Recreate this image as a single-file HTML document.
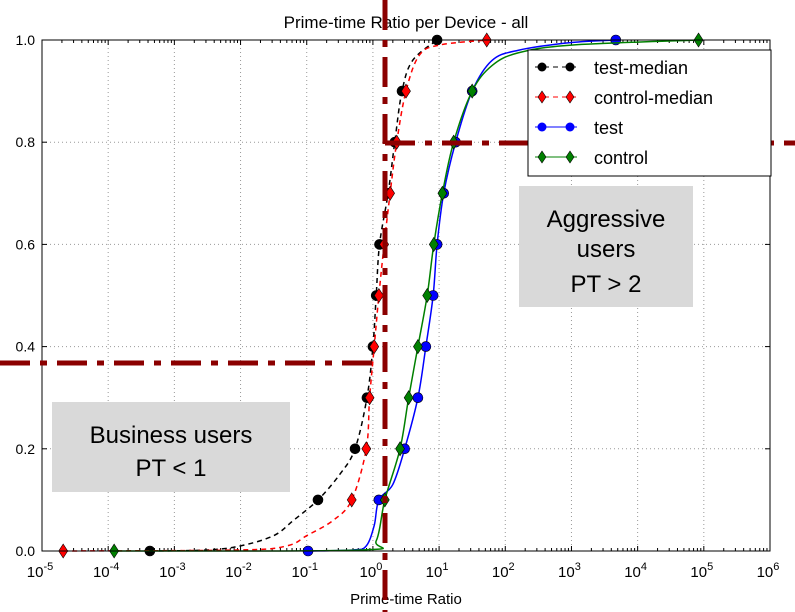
<!DOCTYPE html>
<html><head><meta charset="utf-8"><style>
body{margin:0;background:#fff;font-family:"Liberation Sans",sans-serif}
svg{display:block}
</style></head><body>
<svg id="c" width="795" height="612" font-family="Liberation Sans, sans-serif"></svg>
<script>
const yLevels=[0,0.1,0.2,0.3,0.4,0.5,0.6,0.7,0.8,0.9,1.0];
const testMedianX=[-3.37,-0.83,-0.27,-0.09,0,0.05,0.1,0.23,0.33,0.44,0.97];
const controlMedianX=[-4.68,-0.32,-0.1,-0.05,0.02,0.09,0.17,0.26,0.36,0.5,1.72];
const testX=[-0.98,0.09,0.48,0.68,0.8,0.91,0.97,1.07,1.25,1.5,3.67];
const controlX=[-3.91,0.18,0.41,0.54,0.68,0.82,0.92,1.05,1.22,1.5,4.92];
const testMedianLine=[[-3.37,0],[-2.5,0.002],[-2,0.01],[-1.5,0.03],[-1.2,0.06],[-0.83,0.1],[-0.5,0.15],[-0.27,0.2],[-0.09,0.3],[0,0.4],[0.05,0.5],[0.1,0.6],[0.23,0.7],[0.33,0.8],[0.44,0.9],[0.6,0.96],[0.97,1]];
const controlMedianLine=[[-4.68,0],[-2,0.002],[-1.3,0.01],[-1,0.03],[-0.6,0.06],[-0.32,0.1],[-0.1,0.2],[-0.05,0.3],[0.02,0.4],[0.09,0.5],[0.17,0.6],[0.26,0.7],[0.36,0.8],[0.5,0.9],[0.7,0.97],[1.0,0.99],[1.72,1]];
const testLine=[[-0.98,0],[-0.3,0.002],[-0.1,0.01],[0.02,0.05],[0.09,0.1],[0.3,0.13],[0.48,0.2],[0.68,0.3],[0.8,0.4],[0.91,0.5],[0.97,0.6],[1.07,0.7],[1.25,0.8],[1.5,0.9],[1.8,0.96],[2.2,0.98],[3,0.995],[3.67,1]];
const controlLine=[[-3.91,0],[-0.2,0.002],[0.05,0.02],[0.18,0.1],[0.41,0.2],[0.54,0.3],[0.68,0.4],[0.82,0.5],[0.92,0.6],[1.05,0.7],[1.22,0.8],[1.5,0.9],[1.8,0.95],[2.2,0.975],[3,0.99],[4.92,1]];
const xDecades=[-5,-4,-3,-2,-1,0,1,2,3,4,5,6];
const yTicks=[0,0.2,0.4,0.6,0.8,1.0];
const L=42,R=770,T=40,B=551;
const X=v=>L+(v+5)/11*(R-L);
const Y=v=>B-v*(B-T);
const NS="http://www.w3.org/2000/svg";
const svg=document.getElementById('c');
function el(tag,at,parent){const e=document.createElementNS(NS,tag);for(const k in at)e.setAttribute(k,at[k]);(parent||svg).appendChild(e);return e;}
xDecades.slice(1,-1).forEach(d=>{const g=el('line',{x1:X(d),x2:X(d),y1:T,y2:B,stroke:'#999','stroke-dasharray':'1,3'});

});
yTicks.slice(1,-1).forEach(v=>{const g=el('line',{x1:L,x2:R,y1:Y(v),y2:Y(v),stroke:'#999','stroke-dasharray':'1,3'});

});
xDecades.forEach(d=>{
 [[B,-5],[T,5]].forEach(([y,dy])=>el('line',{x1:X(d),x2:X(d),y1:y,y2:y+dy,stroke:'#000'}));
 if(d<6)for(let m=2;m<10;m++){const xx=X(d+Math.log10(m));[[B,-3],[T,3]].forEach(([y,dy])=>el('line',{x1:xx,x2:xx,y1:y,y2:y+dy,stroke:'#000'}));}
 const t=el('text',{x:X(d)-2,y:577,'font-size':15,'text-anchor':'middle'});
 
 
 t.textContent='10';const s=el('tspan',{dy:-7,'font-size':11},t);s.textContent=d;
});
yTicks.forEach(v=>{
 el('line',{x1:L,x2:L+5,y1:Y(v),y2:Y(v),stroke:'#000'});el('line',{x1:R,x2:R-5,y1:Y(v),y2:Y(v),stroke:'#000'});
 const t=el('text',{x:35,y:Y(v)+5,'font-size':14,'text-anchor':'end'});
 
 
 t.textContent=v.toFixed(1);
});
function path(pts){
 const p=pts.map(([a,b])=>[X(a),Y(b)]);let d='M'+p[0][0]+','+p[0][1];
 for(let i=0;i<p.length-1;i++){const p0=p[i-1]||p[i],p1=p[i],p2=p[i+1],p3=p[i+2]||p2;
  d+=` C${p1[0]+(p2[0]-p0[0])/6},${p1[1]+(p2[1]-p0[1])/6} ${p2[0]-(p3[0]-p1[0])/6},${p2[1]-(p3[1]-p1[1])/6} ${p2[0]},${p2[1]}`;}
 return d;}
function series(name,line,xs,color,dash,marker){
 const g=el('g',{});
 
 
 const at={d:path(line),fill:'none',stroke:color,'stroke-width':1.5};if(dash)at['stroke-dasharray']=dash;
 el('path',at,g);
 xs.forEach((x,i)=>{const cx=X(x),cy=Y(yLevels[i]);let m;
  if(marker==='o')m=el('circle',{cx,cy,r:5,fill:color,stroke:'#000','stroke-width':0.6},g);
  else m=el('polygon',{points:`${cx},${cy-7} ${cx+4.5},${cy} ${cx},${cy+7} ${cx-4.5},${cy}`,fill:color,stroke:'#000','stroke-width':0.6},g);
  
  });
}
series('test-median',testMedianLine,testMedianX,'#000','5,4','o');
series('control-median',controlMedianLine,controlMedianX,'#f00','5,4','d');
series('test',testLine,testX,'#00f',null,'o');
series('control',controlLine,controlX,'#008000',null,'d');
const f=el('rect',{x:L,y:T,width:R-L,height:B-T,fill:'none',stroke:'#000','stroke-width':1});


</script>
<svg width="795" height="612" style="position:absolute;left:0;top:0" font-family="Liberation Sans, sans-serif">
<text x="406" y="28" font-size="17" text-anchor="middle">Prime-time Ratio per Device - all</text>
<text x="406" y="604" font-size="15" text-anchor="middle">Prime-time Ratio</text>
<g stroke="#8b0000" stroke-width="5" stroke-dasharray="30,10,7,10" fill="none">
<line x1="385" y1="0" x2="385" y2="612"/>
<line x1="385" y1="143" x2="795" y2="143"/>
<line x1="0" y1="363" x2="373" y2="363"/>
</g>
<g>
<rect x="528" y="50" width="243" height="126" fill="#fff" stroke="#000"/>
<line x1="535" y1="67" x2="577" y2="67" stroke="#000" stroke-dasharray="5,4"/><circle cx="542" cy="67" r="4.5" fill="#000"/><circle cx="570" cy="67" r="4.5" fill="#000"/>
<text x="594" y="74" font-size="18">test-median</text>
<line x1="535" y1="97" x2="577" y2="97" stroke="#f00" stroke-dasharray="5,4"/><polygon points="542,91 546,97 542,103 538,97" fill="#f00" stroke="#000" stroke-width=".6"/><polygon points="570,91 574,97 570,103 566,97" fill="#f00" stroke="#000" stroke-width=".6"/>
<text x="594" y="104" font-size="18">control-median</text>
<line x1="535" y1="127" x2="577" y2="127" stroke="#00f"/><circle cx="542" cy="127" r="4.5" fill="#00f"/><circle cx="570" cy="127" r="4.5" fill="#00f"/>
<text x="594" y="134" font-size="18">test</text>
<line x1="535" y1="157" x2="577" y2="157" stroke="#008000"/><polygon points="542,151 546,157 542,163 538,157" fill="#008000" stroke="#000" stroke-width=".6"/><polygon points="570,151 574,157 570,163 566,157" fill="#008000" stroke="#000" stroke-width=".6"/>
<text x="594" y="164" font-size="18">control</text>
</g>
<g>
<rect x="519" y="186" width="174" height="121" fill="#d9d9d9"/>
<text x="606" y="227" font-size="24" text-anchor="middle">Aggressive</text>
<text x="606" y="257" font-size="24" text-anchor="middle">users</text>
<text x="606" y="292" font-size="24" text-anchor="middle">PT &gt; 2</text>
</g>
<g>
<rect x="52" y="402" width="238" height="90" fill="#d9d9d9"/>
<text x="171" y="443" font-size="24" text-anchor="middle">Business users</text>
<text x="171" y="476" font-size="24" text-anchor="middle">PT &lt; 1</text>
</g>
</svg>
</body></html>
